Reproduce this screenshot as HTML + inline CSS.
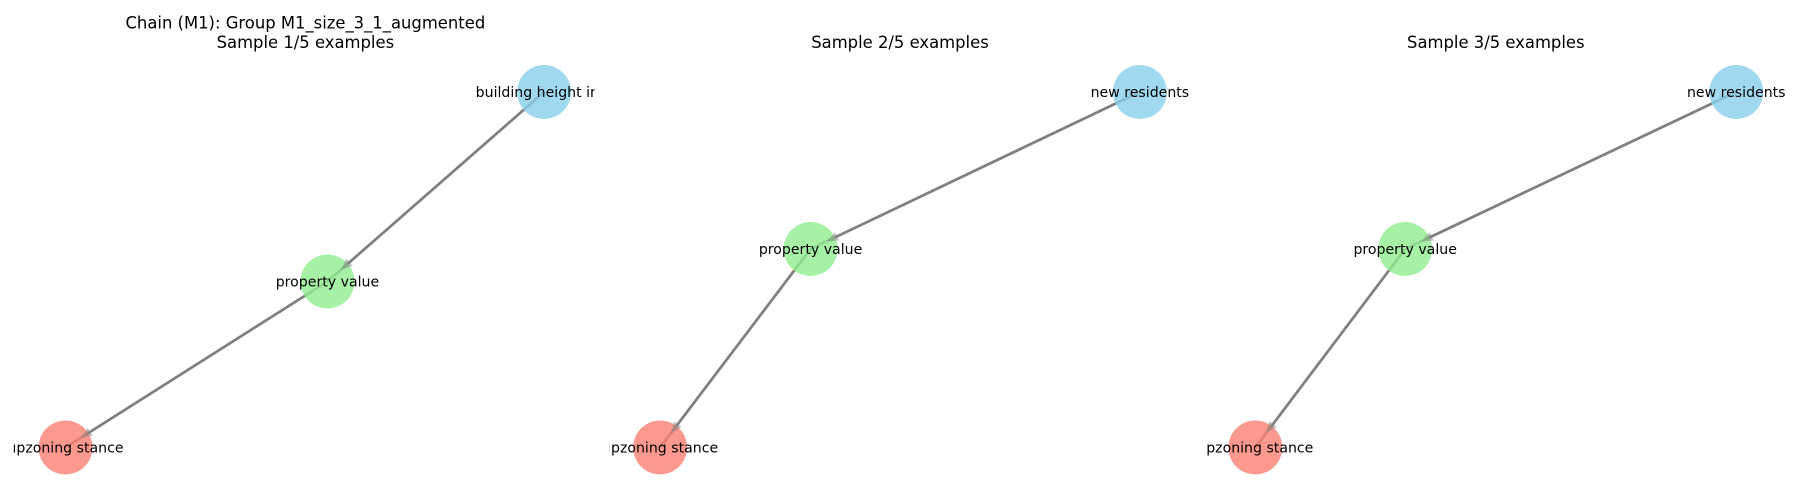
<!DOCTYPE html>
<html><head><meta charset="utf-8"><style>
html,body{margin:0;padding:0;background:#fff;width:1800px;height:500px;overflow:hidden}
svg text{font-family:"DejaVu Sans","Liberation Sans",sans-serif}
</style></head><body>
<svg id="fig" width="1800" height="500" viewBox="0 0 1568 435.56" xmlns="http://www.w3.org/2000/svg">
<defs>
<clipPath id="c0"><rect x="12" y="0" width="506" height="436"/></clipPath>
<clipPath id="c1"><rect x="531" y="0" width="505" height="436"/></clipPath>
<clipPath id="c2"><rect x="1050" y="0" width="505" height="436"/></clipPath>
</defs>
<text x="266" y="25" font-size="14.3" text-anchor="middle">Chain (M1): Group M1_size_3_1_augmented</text>
</svg>
<script>
const panelTitles = ["Sample 1/5 examples", "Sample 2/5 examples", "Sample 3/5 examples"];
const panelLeft = [12, 531, 1050];
const panelWidth = 506;
const nodeNames = [
  ["building height incr", "property value", "upzoning stance"],
  ["new residents", "property value", "upzoning stance"],
  ["new residents", "property value", "upzoning stance"]
];
// node positions in axis fraction units (x from left, y from top)
const nodeX = [[0.913, 0.540, 0.089], [0.913, 0.346, 0.087], [0.914, 0.344, 0.086]];
const nodeY = [[0.184, 0.563, 0.895], [0.184, 0.498, 0.895], [0.184, 0.498, 0.895]];
const edges = [[0, 1], [1, 2]];
const nodeColors = ["rgba(135,206,235,0.8)", "rgba(144,238,144,0.8)", "rgba(250,128,114,0.8)"];

const NS = "http://www.w3.org/2000/svg";
const svg = document.getElementById("fig");
const R = 23.5;
const H = 435.56;
function sx(p, v) { return panelLeft[p] + v * panelWidth; }
function sy(v) { return v * H; }

panelTitles.forEach((t, p) => {
  const g = document.createElementNS(NS, "g");
  
  
  svg.appendChild(g);
  const title = document.createElementNS(NS, "text");
  
  
  title.setAttribute("x", panelLeft[p] + panelWidth / 2 + (p === 0 ? 1 : 0));
  title.setAttribute("y", 42);
  title.setAttribute("font-size", "14.3");
  title.setAttribute("text-anchor", "middle");
  title.textContent = t;
  g.appendChild(title);
  const cg = document.createElementNS(NS, "g");
  cg.setAttribute("clip-path", "url(#c" + p + ")");
  g.appendChild(cg);
  edges.forEach(([a, b]) => {
    const x1 = sx(p, nodeX[p][a]), y1 = sy(nodeY[p][a]);
    const x2 = sx(p, nodeX[p][b]), y2 = sy(nodeY[p][b]);
    const l = document.createElementNS(NS, "line");
    
    
    l.setAttribute("x1", x1); l.setAttribute("y1", y1);
    l.setAttribute("x2", x2); l.setAttribute("y2", y2);
    l.setAttribute("stroke", "#808080"); l.setAttribute("stroke-width", "2.4");
    cg.appendChild(l);
  });
  nodeNames[p].forEach((n, i) => {
    const c = document.createElementNS(NS, "circle");
    
    
    c.setAttribute("cx", sx(p, nodeX[p][i])); c.setAttribute("cy", sy(nodeY[p][i]));
    c.setAttribute("r", R); c.setAttribute("fill", nodeColors[i]);
    cg.appendChild(c);
  });
  edges.forEach(([a, b]) => {
    const x1 = sx(p, nodeX[p][a]), y1 = sy(nodeY[p][a]);
    const x2 = sx(p, nodeX[p][b]), y2 = sy(nodeY[p][b]);
    const d = Math.hypot(x2 - x1, y2 - y1), ux = (x2 - x1) / d, uy = (y2 - y1) / d;
    const tx = x2 - ux * (R - 8), ty = y2 - uy * (R - 8);
    const bx = tx - ux * 10, by = ty - uy * 10;
    const poly = document.createElementNS(NS, "polygon");
    
    
    poly.setAttribute("points", `${tx},${ty} ${bx - uy * 4},${by + ux * 4} ${bx + uy * 4},${by - ux * 4}`);
    poly.setAttribute("fill", "rgba(128,128,128,0.5)");
    cg.appendChild(poly);
  });
  nodeNames[p].forEach((n, i) => {
    const t = document.createElementNS(NS, "text");
    
    
    t.setAttribute("x", sx(p, nodeX[p][i])); t.setAttribute("y", sy(nodeY[p][i]) + 4.5);
    t.setAttribute("font-size", "12.3"); t.setAttribute("text-anchor", "middle");
    t.textContent = n;
    cg.appendChild(t);
  });
});
</script>
</body></html>
